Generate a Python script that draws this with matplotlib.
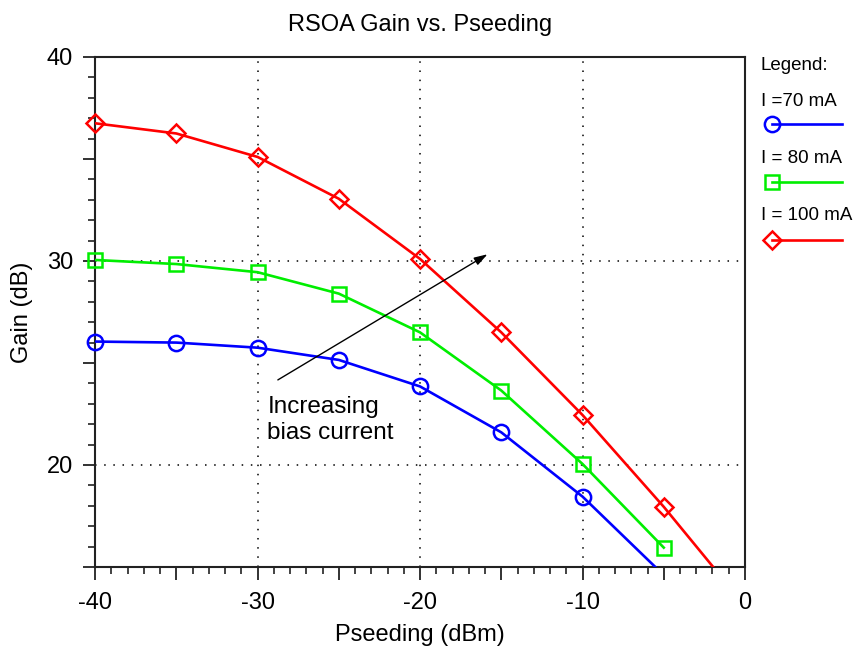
import matplotlib
matplotlib.use("Agg")
import matplotlib.pyplot as plt
import numpy as np
from matplotlib.ticker import MultipleLocator, FuncFormatter

plt.rcParams["font.family"] = ["Liberation Sans", "DejaVu Sans"]
plt.rcParams["axes.unicode_minus"] = False

# seeding power (dBm) and measured gain (dB) per bias current
pseed = [-40, -35, -30, -25, -20, -15, -10, -5]
gain_70 = [26.05, 26.0, 25.75, 25.15, 23.85, 21.6, 18.45, 14.6]
gain_80 = [30.05, 29.85, 29.45, 28.4, 26.5, 23.65, 20.05, 15.95]
pseed_100 = [-40, -35, -30, -25, -20, -15, -10, -5, 0]
gain_100 = [36.75, 36.25, 35.1, 33.05, 30.1, 26.5, 22.45, 17.95, 13.1]

labels = ["I =70 mA", "I = 80 mA", "I = 100 mA"]
colors = ["#0000ff", "#00ee00", "#ff0000"]
markers = ["o", "s", "D"]
msizes = [11, 10, 9.5]

fig = plt.figure(figsize=(8.57, 6.46), dpi=100)
ax = fig.add_axes([0.111, 0.1223, 0.7583, 0.7895])

xmin, xmax, ymin, ymax = -40, 0, 15, 40
series = [(pseed, gain_70), (pseed, gain_80), (pseed_100, gain_100)]
for (xs, ys), c, m, ms in zip(series, colors, markers, msizes):
    xs = np.asarray(xs, float)
    ys = np.asarray(ys, float)
    ax.plot(xs, ys, color=c, lw=1.9, zorder=3)
    # markers are not clipped at the axes edge, but only those inside the range
    inside = (ys >= ymin) & (ys <= ymax)
    ax.plot(xs[inside], ys[inside], ls="none", marker=m, ms=ms, mfc="none",
            mec=c, mew=1.8, zorder=4, clip_on=False)

ax.set_xlim(xmin, xmax)
ax.set_ylim(ymin, ymax)

# ticks: long every 5, short every 1, labels only at every 10
ax.xaxis.set_major_locator(MultipleLocator(5))
ax.yaxis.set_major_locator(MultipleLocator(5))
ax.xaxis.set_minor_locator(MultipleLocator(1))
ax.yaxis.set_minor_locator(MultipleLocator(1))
fmt = FuncFormatter(lambda v, p: "%d" % v if round(v) % 10 == 0 else "")
ax.xaxis.set_major_formatter(fmt)
ax.yaxis.set_major_formatter(fmt)
ax.tick_params(which="major", direction="out", length=9, width=1.3,
               labelsize=17, color="#222222")
ax.tick_params(which="minor", direction="out", length=5, width=1.2,
               color="#222222")
ax.tick_params(axis="x", pad=9)
ax.tick_params(axis="y", pad=7)
for s in ax.spines.values():
    s.set_linewidth(1.5)
    s.set_color("#222222")

# dotted grid at the labelled ticks
grid_style = dict(color="black", lw=1.1, ls=(0, (1, 5)), zorder=1)
for gx in [-30, -20, -10]:
    ax.axvline(gx, **grid_style)
for gy in [20, 30]:
    ax.axhline(gy, **grid_style)

ax.set_title("RSOA Gain vs. Pseeding", fontsize=17, pad=19)
ax.set_xlabel("Pseeding (dBm)", fontsize=17, labelpad=7)
ax.set_ylabel("Gain (dB)", fontsize=17, labelpad=10)

# annotation for bias current trend
ax.annotate("", xy=(-15.7, 30.4), xytext=(-28.9, 24.1),
            arrowprops=dict(arrowstyle="-|>,head_length=0.8,head_width=0.25",
                            color="black", lw=1.0), zorder=5)
ax.text(-29.4, 22.2, "Increasing\nbias current", fontsize=17.5,
        ha="left", va="center", linespacing=1.2, zorder=2,
        bbox=dict(boxstyle="square,pad=0.3", fc="white", ec="none"))

# legend panel to the right of the plot
fig.text(761 / 857, 1 - 66 / 646, "Legend:", fontsize=13.5,
         ha="left", va="center")
label_y = [101, 159, 216]
line_y = [124, 182, 240]
for lab, ly, yy, c, m, ms in zip(labels, label_y, line_y, colors, markers,
                                 msizes):
    fig.text(761 / 857, 1 - ly / 646, lab, fontsize=13.5, ha="left",
             va="center")
    yf = 1 - yy / 646
    fig.add_artist(plt.Line2D([772 / 857, 842 / 857], [yf, yf], color=c,
                              lw=1.9, transform=fig.transFigure))
    fig.add_artist(plt.Line2D([772 / 857], [yf], color=c, marker=m, ms=ms,
                              mfc="none", mec=c, mew=1.8,
                              transform=fig.transFigure))

fig.savefig("out.png", dpi=100)
